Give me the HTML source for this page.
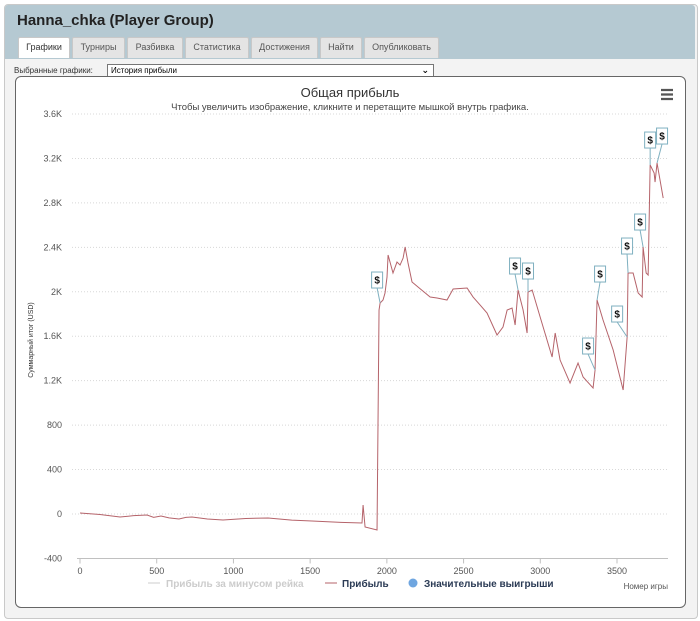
<!DOCTYPE html>
<html><head><meta charset="utf-8">
<style>
body{margin:0;width:700px;height:621px;background:#fff;font-family:"Liberation Sans","DejaVu Sans",sans-serif;overflow:hidden;position:relative}
.win{position:absolute;left:4px;top:4px;width:692px;height:613px;background:#f3f3f3;border:1px solid #c9c9c9;border-radius:4px}
.hdr{position:absolute;left:5px;top:5px;width:690px;height:54px;background:#b5c9d2;border-radius:3px 3px 0 0}
.title{position:absolute;left:17px;top:12px;font-size:15px;font-weight:bold;color:#222}
.tab{position:absolute;top:37px;height:20px;background:#e4e4e4;border:1px solid #c8c8c8;border-bottom:none;font-size:9px;color:#555;text-align:center;line-height:19px;border-radius:2px 2px 0 0}
.tab.on{background:#fff;color:#333}
.sel-l{position:absolute;left:14px;top:66px;font-size:8px;color:#333}
.sel{position:absolute;left:107px;top:64px;width:322px;height:11px;border:1px solid #777;background:#fff;font-size:8px;line-height:11px;padding-left:3px;box-sizing:content-box}
.panel{position:absolute;left:15px;top:76px;width:669px;height:530px;background:#fff;border:1px solid #666;border-radius:6px}
</style></head><body>
<div class="win"></div>
<div class="hdr"></div>
<div class="title">Hanna_chka (Player Group)</div>
<div class="tab on" style="left:18px;width:50px">Графики</div>
<div class="tab" style="left:72px;width:51px">Турниры</div>
<div class="tab" style="left:127px;width:54px">Разбивка</div>
<div class="tab" style="left:185px;width:62px">Статистика</div>
<div class="tab" style="left:251px;width:65px">Достижения</div>
<div class="tab" style="left:320px;width:40px">Найти</div>
<div class="tab" style="left:364px;width:73px">Опубликовать</div>
<div class="sel-l">Выбранные графики:</div>
<div class="sel">История прибыли<span style="position:absolute;right:4px;top:0;font-size:9px;font-weight:bold">&#x2304;</span></div>
<div class="panel"></div>
<svg id="chart" width="700" height="621" style="position:absolute;left:0;top:0"></svg>
<script>
const tickValues=[-400,0,400,800,1200,1600,2000,2400,2800,3200,3600];
const tickLabels=["-400","0","400","800","1.2K","1.6K","2K","2.4K","2.8K","3.2K","3.6K"];
const xTicks=[0,500,1000,1500,2000,2500,3000,3500];
const games=[0,130,261,350,437,480,528,580,645,690,730,830,932,1080,1226,1380,1512,1700,1838,1845,1858,1936,1949,1956,1975,1988,2001,2008,2040,2066,2086,2106,2119,2138,2164,2203,2282,2327,2392,2432,2523,2562,2608,2653,2718,2757,2784,2816,2836,2855,2888,2914,2920,2947,2999,3077,3097,3129,3194,3246,3279,3344,3357,3370,3409,3475,3540,3566,3572,3605,3638,3664,3670,3690,3703,3716,3742,3748,3761,3801];
const profit=[9,-5,-27,-15,-9,-30,-18,-35,-45,-30,-27,-45,-54,-40,-36,-55,-63,-75,-81,81,-117,-144,1836,1899,1926,1989,2133,2331,2169,2268,2241,2304,2403,2259,2088,2043,1953,1944,1926,2025,2034,1953,1881,1809,1611,1683,1836,1854,1701,2016,1836,1629,1998,2016,1773,1413,1629,1386,1179,1359,1233,1134,1296,1926,1746,1476,1116,1593,2169,2169,1989,1953,2403,2169,2151,3141,3069,2988,3159,2844];
const winGames=[1956,2855,2920,3357,3370,3566,3572,3670,3716,3761];
const winValues=[1899,2016,1998,1296,1926,1593,2169,2403,3141,3159];
const winDx=[-3,-3,0,-7,3,-10,-1,-3,0,5];
const winDy=[-15,-16,-13,-16,-18,-15,-19,-17,-17,-19];

const NS="http://www.w3.org/2000/svg";
const svg=document.getElementById('chart');
const X=g=>80+g*0.15343;
const Y=v=>514-v*0.1111;
function mk(t,a,txt){const e=document.createElementNS(NS,t);for(const k in a)e.setAttribute(k,a[k]);if(txt!==undefined)e.textContent=txt;svg.appendChild(e);return e;}
let e;
e=mk('text',{x:350,y:97,'text-anchor':'middle','font-size':13,fill:'#333'},'Общая прибыль');


e=mk('text',{x:350,y:110,'text-anchor':'middle','font-size':9.5,fill:'#444'},'Чтобы увеличить изображение, кликните и перетащите мышкой внутрь графика.');


e=mk('path',{d:'M661 90h12M661 94.5h12M661 99h12',stroke:'#555','stroke-width':2.2});


tickValues.forEach((v,i)=>{
 if(v>-400){e=mk('line',{x1:72,x2:668,y1:Y(v),y2:Y(v),stroke:'#d8d8d8','stroke-dasharray':'1,2'});
 
 }
 e=mk('text',{x:62,y:Y(v)+3,'text-anchor':'end','font-size':9,fill:'#555'},tickLabels[i]);
 
 
});
e=mk('line',{x1:77,x2:668,y1:Y(-400),y2:Y(-400),stroke:'#c0c0c0'});


xTicks.forEach(g=>{
 e=mk('line',{x1:X(g),x2:X(g),y1:Y(-400),y2:Y(-400)+5,stroke:'#c0c0c0'});
 
 
 e=mk('text',{x:X(g),y:574,'text-anchor':'middle','font-size':9,fill:'#555'},String(g));
 
 
});
e=mk('text',{x:0,y:0,'text-anchor':'middle','font-size':7,fill:'#333',transform:'translate(33,340) rotate(-90)'},'Суммарный итог (USD)');


e=mk('text',{x:668,y:589,'text-anchor':'end','font-size':8,fill:'#555'},'Номер игры');


e=mk('polyline',{points:games.map((g,i)=>X(g)+','+Y(profit[i])).join(' '),fill:'none',stroke:'#b5636a','stroke-width':1});


winGames.forEach((g,i)=>{
 const px=X(g),py=Y(winValues[i]),bx=px+winDx[i],by=py+winDy[i];
 e=mk('line',{x1:px,y1:py,x2:bx,y2:by,stroke:'#7fb0c0'});
 
 
 e=mk('rect',{x:bx-5.5,y:by-16,width:11,height:16,fill:'#fff',stroke:'#7fb0c0'});
 
 
 e=mk('text',{x:bx,y:by-4.5,'text-anchor':'middle','font-size':10,'font-weight':'bold',fill:'#111'},'$');
 
 
});
e=mk('line',{x1:148,x2:160,y1:583,y2:583,stroke:'#ccc'});


e=mk('text',{x:166,y:587,'font-size':10,'font-weight':'bold',fill:'#ccc'},'Прибыль за минусом рейка');


e=mk('line',{x1:325,x2:337,y1:583,y2:583,stroke:'#b5636a'});


e=mk('text',{x:342,y:587,'font-size':10,'font-weight':'bold',fill:'#2b3b55'},'Прибыль');


e=mk('circle',{cx:413,cy:583,r:4.5,fill:'#6fa6e0'});


e=mk('text',{x:424,y:587,'font-size':10,'font-weight':'bold',fill:'#2b3b55'},'Значительные выигрыши');


</script>
</body></html>
